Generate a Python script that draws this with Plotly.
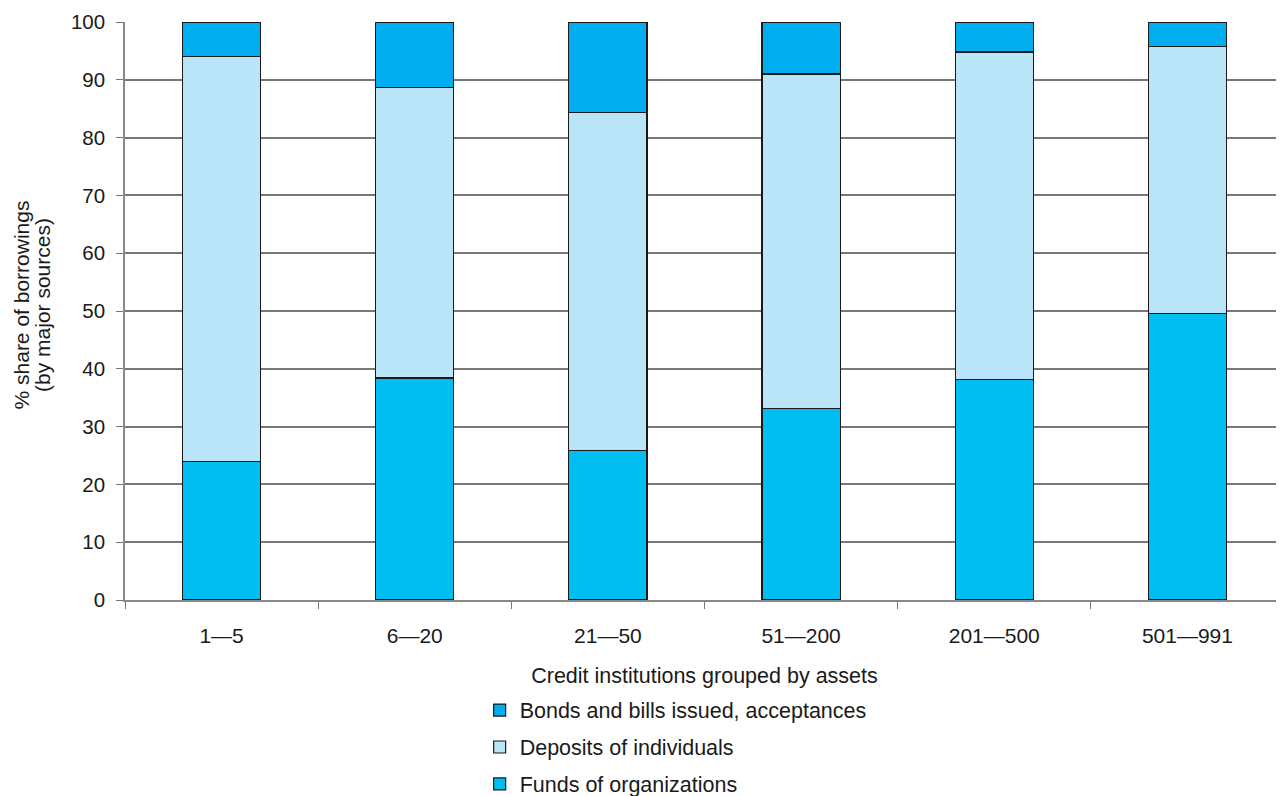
import plotly.graph_objects as go

categories = ["1—5", "6—20", "21—50", "51—200", "201—500", "501—991"]
funds_of_organizations = [23.9, 38.4, 25.9, 33.2, 38.1, 49.5]
deposits_of_individuals = [70.2, 50.2, 58.5, 57.8, 56.7, 46.3]
bonds_and_bills = [5.9, 11.4, 15.6, 9.0, 5.2, 4.2]
y_ticks = [0, 10, 20, 30, 40, 50, 60, 70, 80, 90, 100]
y_title_lines = ["% share of borrowings", "(by major sources)"]

FONT = "Liberation Sans, Arial, sans-serif"
line = dict(color="#1a1a1a", width=1.2)

fig = go.Figure()
fig.add_trace(go.Bar(x=categories, y=funds_of_organizations, name="Funds of organizations",
                     marker=dict(color="#00BDF2", line=line), width=0.405,
                     legendgroup="c", legendrank=3))
fig.add_trace(go.Bar(x=categories, y=deposits_of_individuals, name="Deposits of individuals",
                     marker=dict(color="#BAE5F8", line=line), width=0.405,
                     legendgroup="b", legendrank=2))
fig.add_trace(go.Bar(x=categories, y=bonds_and_bills, name="Bonds and bills issued, acceptances",
                     marker=dict(color="#00ADEF", line=line), width=0.405,
                     legendgroup="a", legendrank=1))

for i, txt in enumerate(y_title_lines):
    fig.add_annotation(text=txt, xref="paper", yref="paper",
                       x=-0.0895 + i * 0.0185, y=0.51, xanchor="center", yanchor="middle",
                       textangle=-90, showarrow=False, font=dict(size=21))

fig.update_layout(
    barmode="stack",
    width=1276, height=788,
    margin=dict(l=117, r=0, t=14, b=196, autoexpand=False),
    paper_bgcolor="white", plot_bgcolor="white",
    font=dict(family=FONT, size=21, color="#1a1a1a"),
    showlegend=True,
    legend=dict(orientation="v", traceorder="grouped", x=0.306, xanchor="left",
                y=-0.155, yanchor="top", tracegroupgap=6,
                font=dict(size=21.5), itemwidth=30),
    xaxis=dict(
        title=dict(text="Credit institutions grouped by assets", standoff=22, font=dict(size=21.5)),
        tickson="boundaries", ticks="outside", ticklen=7, tickcolor="#777",
        showline=True, linecolor="#888", linewidth=1.5, showgrid=False,
        tickfont=dict(size=21), ticklabelstandoff=16,
    ),
    yaxis=dict(
        range=[0, 100], tickvals=y_ticks, ticks="outside", ticklen=7, tickcolor="#777",
        showline=True, linecolor="#888", linewidth=1.5,
        showgrid=True, gridcolor="#777", gridwidth=1.5,
        tickfont=dict(size=20.5), zeroline=False, ticklabelstandoff=7,
    ),
)

fig.write_html("out.html")
